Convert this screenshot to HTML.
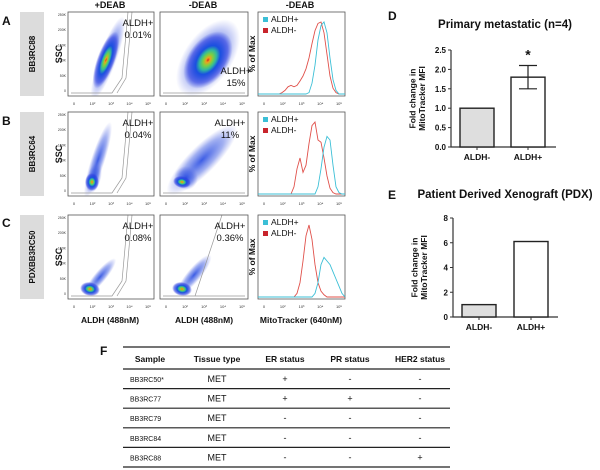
<!DOCTYPE html>
<html><head><meta charset="utf-8"><style>
body{margin:0;background:#fff;}
svg{display:block;font-family:"Liberation Sans",Arial,sans-serif;}
</style></head><body>
<svg id="fig" width="600" height="470" viewBox="0 0 600 470" xmlns="http://www.w3.org/2000/svg">
<defs>
<radialGradient id="dens" cx="50%" cy="50%" r="50%">
<stop offset="0" stop-color="#d42a1a"/><stop offset="0.08" stop-color="#f0a020"/><stop offset="0.2" stop-color="#7dd040"/><stop offset="0.35" stop-color="#2fb8a0"/><stop offset="0.5" stop-color="#1a50e0"/><stop offset="0.8" stop-color="#2a3ce0" stop-opacity="0.6"/><stop offset="1" stop-color="#3040e0" stop-opacity="0"/>
</radialGradient>
<radialGradient id="blue" cx="50%" cy="50%" r="50%">
<stop offset="0" stop-color="#1a40e0" stop-opacity="0.85"/><stop offset="0.6" stop-color="#3050e0" stop-opacity="0.45"/><stop offset="1" stop-color="#5060e0" stop-opacity="0"/>
</radialGradient>
</defs>
<g font-weight="bold" font-size="9" text-anchor="middle" fill="#111">
<text x="110" y="8">+DEAB</text>
<text x="203" y="8">-DEAB</text>
<text x="300" y="8">-DEAB</text>
</g>
<g font-weight="bold" font-size="12" fill="#111">
<text x="2" y="25">A</text>
<text x="2" y="125">B</text>
<text x="2" y="227">C</text>
<text x="388" y="20">D</text>
<text x="388" y="199">E</text>
<text x="100" y="355">F</text>
</g>
<g id="rows"></g>
<g id="dchart"></g>
<g id="echart"></g>
<g id="table"></g>
</svg>
<script>
const NS="http://www.w3.org/2000/svg";
function mk(tag,attrs,parent,txt){const e=document.createElementNS(NS,tag);for(const k in attrs)e.setAttribute(k,attrs[k]);if(txt!==undefined)e.textContent=txt;parent.appendChild(e);return e;}

// ---- flow cytometry rows ----
const sampleNames=["BB3RC88","BB3RC64","PDXBB3RC50"];
const gateLeft=["ALDH+\n0.01%","ALDH+\n0.04%","ALDH+\n0.08%"];
const gateRight=["ALDH+\n15%","ALDH+\n11%","ALDH+\n0.36%"];
const histRedA=[0,0,0,0,0,0,0,0,0.02,0.05,0.1,0.12,0.1,0.12,0.18,0.25,0.35,0.5,0.7,0.88,0.98,1.0,0.85,0.55,0.25,0.08,0.02,0,0,0];
const histCyanA=[0,0,0,0,0,0,0,0,0,0,0,0,0,0,0,0,0,0.02,0.15,0.4,0.75,0.95,1.0,0.85,0.5,0.2,0.05,0,0,0];
const histRedB=[0,0,0,0,0,0,0,0,0,0,0,0,0.1,0.35,0.5,0.3,0.4,0.7,0.95,1.0,0.75,0.72,0.5,0.25,0.08,0.02,0,0,0,0];
const histCyanB=[0,0,0,0,0,0,0,0,0,0,0,0,0,0,0,0,0,0,0,0,0.1,0.35,0.65,0.8,0.75,0.4,0.1,0.02,0,0];
const histRedC=[0,0,0,0,0,0,0,0,0,0,0,0,0,0.05,0.2,0.5,0.85,1.0,0.8,0.45,0.2,0.08,0.03,0,0,0,0,0,0,0];
const histCyanC=[0,0,0,0,0,0,0,0,0,0,0,0,0,0,0,0,0,0,0,0.05,0.2,0.45,0.55,0.5,0.45,0.35,0.25,0.15,0.05,0];
const histRed=[histRedA,histRedB,histRedC];
const histCyan=[histCyanA,histCyanB,histCyanC];
const xTicks=["0","10²","10³","10⁴","10⁵"];
const yTicks=["250K","200K","150K","100K","50K","0"];
const rowTops=[12,112,215];
const rowsG=document.getElementById('rows');
// blob shapes: [cx,cy,rx,ry,rotation,gradient] relative to panel
const blobs=[
 [[[40,46,9,44,20,'blue'],[38,48,9,30,20,'dens']],[[48,46,24,44,35,'blue'],[48,48,20,32,35,'dens']]],
 [[[30,48,7,40,18,'blue'],[26,66,7,16,15,'blue'],[24,70,7,9,0,'dens']],[[42,48,14,48,45,'blue'],[26,66,12,12,45,'blue'],[22,70,9,6,10,'dens']]],
 [[[32,62,6,24,40,'blue'],[22,74,10,7,10,'dens']],[[34,60,7,26,40,'blue'],[22,74,10,7,10,'dens']]]
];
rowTops.forEach((top,r)=>{
  const g=mk('g',{},rowsG);
  
  
  const lab=mk('rect',{x:20,y:top,width:24,height:84,fill:'#dcdcdc'},g);
  
  
  const t=mk('text',{x:0,y:0,transform:`translate(35,${top+42}) rotate(-90)`,'text-anchor':'middle','font-size':'8','font-weight':'bold',fill:'#111'},g,sampleNames[r]);
  
  
  const ssc=mk('text',{x:0,y:0,transform:`translate(62,${top+42}) rotate(-90)`,'text-anchor':'middle','font-size':'9','font-weight':'bold',fill:'#111'},g,'SSC');
  
  
  const panels=[[68,86],[160,88]];
  panels.forEach((p,pi)=>{
    const px=p[0],pw=p[1],ph=84;
    const cg=mk('g',{},g);
    
    
    const cp='cp'+r+pi;
    const clip=mk('clipPath',{id:cp},cg);mk('rect',{x:px,y:top,width:pw,height:ph},clip);
    const bg=mk('g',{'clip-path':`url(#${cp})`},cg);
    blobs[r][pi].forEach(b=>{
      const e=mk('ellipse',{cx:px+b[0],cy:top+b[1],rx:b[2],ry:b[3],fill:`url(#${b[5]})`,transform:`rotate(${b[4]} ${px+b[0]} ${top+b[1]})`},bg);
      
      
    });
    const gx=pi===0?px+44:px+14;
    let gd;
    if(pi===0) gd=`M${px+3} ${top+81} L${gx} ${top+81} L${gx+10} ${top+66} L${gx+16} ${top} M${gx+5} ${top+81} L${gx+14} ${top+66} L${gx+20} ${top}`;
    else if(r===2) gd=`M${px+3} ${top+81} L${px+pw-3} ${top+81} M${px+35} ${top+81} L${px+62} ${top}`;
    else gd=`M${px+3} ${top+81} L${px+pw-3} ${top+81}`;
    const gate=mk('path',{d:gd,fill:'none',stroke:'#999','stroke-width':0.7},cg);
    
    
    const fr=mk('rect',{x:px,y:top,width:pw,height:ph,fill:'none',stroke:'#555','stroke-width':0.8},cg);
    
    
    const lines=(pi===0?gateLeft[r]:gateRight[r]).split('\n');
    let lx,ly;
    if(pi===0){lx=px+70;ly=top+14;}else{ if(r===0){lx=px+76;ly=top+62;}else{lx=px+70;ly=top+14;} }
    lines.forEach((s,i)=>{const tt=mk('text',{x:lx,y:ly+i*12,'text-anchor':'middle','font-size':'9.5',fill:'#111'},cg,s);
      
      });
    xTicks.forEach((s,i)=>{const tx=mk('text',{x:px+6+i*(pw-12)/4,y:top+93,'text-anchor':'middle','font-size':'4',fill:'#333'},cg,s);
      
      });
    if(pi===0)yTicks.forEach((s,i)=>{const ty=mk('text',{x:px-2,y:top+4+i*15.2,'text-anchor':'end','font-size':'3.5',fill:'#333'},cg,s);
      
      });
  });
  const hx=258,hw=87,ph=84,base=top+82;
  const hg=mk('g',{},g);
  
  
  const fr=mk('rect',{x:hx,y:top,width:hw,height:ph,fill:'none',stroke:'#555','stroke-width':0.8},hg);
  
  
  const xs=i=>hx+i*hw/(histRed[r].length-1);
  const ys=v=>base-v*72;
  [[histRed[r],'#e0504a','red-series'],[histCyan[r],'#3bbfd6','cyan-series']].forEach(s=>{
    const pts=s[0].map((v,i)=>xs(i).toFixed(1)+','+ys(v).toFixed(1)).join(' ');
    const pl=mk('polyline',{points:pts,fill:'none',stroke:s[1],'stroke-width':0.9},hg);
    
    
  });
  const yl=mk('text',{x:0,y:0,transform:`translate(255,${top+42}) rotate(-90)`,'text-anchor':'middle','font-size':'8.5','font-weight':'bold',fill:'#111'},g,'% of Max');
  
  
  [['#3bbfd6','ALDH+',0],['#c8242c','ALDH-',11]].forEach(l=>{
    const sq=mk('rect',{x:263,y:top+5+l[2],width:5,height:5,fill:l[0]},hg);
    
    
    const lt=mk('text',{x:271,y:top+10+l[2],'font-size':'8.5',fill:'#111'},hg,l[1]);
    
    
  });
  xTicks.forEach((s,i)=>{const tx=mk('text',{x:hx+6+i*(hw-12)/4,y:top+93,'text-anchor':'middle','font-size':'4',fill:'#333'},hg,s);
    
    });
});
[['ALDH (488nM)',110],['ALDH (488nM)',204],['MitoTracker (640nM)',301]].forEach(a=>{
  const t=mk('text',{x:a[1],y:323,'text-anchor':'middle','font-size':'8.5','font-weight':'bold',fill:'#111'},rowsG,a[0]);
  
  
});

// ---- bar charts ----
const dCategories=["ALDH-","ALDH+"];
const dValues=[1.0,1.8];
const dErrors=[0,0.3];
const dTicks=[0,0.5,1.0,1.5,2.0,2.5];
const eCategories=["ALDH-","ALDH+"];
const eValues=[1.0,6.1];
const eTicks=[0,2,4,6,8];
function barChart(gid,name,title,titleY,cats,vals,errs,ticks,ymax,axisX,y0,yTop,barX,barW,star,dec){
  const g=document.getElementById(gid);
  
  
  const ys=v=>y0-(v/ymax)*(y0-yTop);
  const tt=mk('text',{x:505,y:titleY,'text-anchor':'middle','font-size':'11.5','font-weight':'bold',fill:'#111'},g,title);
  
  
  const ax=mk('path',{d:`M${axisX} ${yTop} L${axisX} ${y0} L${axisX+105} ${y0}`,fill:'none',stroke:'#333','stroke-width':1.2},g);
  
  
  ticks.forEach(v=>{
    const tk=mk('line',{x1:axisX-3,x2:axisX,y1:ys(v),y2:ys(v),stroke:'#333','stroke-width':1},g);
    
    
    const tl=mk('text',{x:axisX-5,y:ys(v)+3,'text-anchor':'end','font-size':'8','font-weight':'bold',fill:'#111'},g,dec?v.toFixed(1):String(v));
    
    
  });
  const yl=mk('text',{x:0,y:0,transform:`translate(${axisX-34},${(y0+yTop)/2}) rotate(-90)`,'text-anchor':'middle','font-size':'8.5','font-weight':'bold',fill:'#111'},g);
  
  
  mk('tspan',{x:0,dy:'-0.2em'},yl,'Fold change in');
  mk('tspan',{x:0,dy:'1.15em'},yl,'MitoTracker MFI');
  cats.forEach((c,i)=>{
    const x=barX[i];
    const b=mk('rect',{x:x,y:ys(vals[i]),width:barW,height:y0-ys(vals[i]),fill:i===0?'#dedede':'#fff',stroke:'#222','stroke-width':1.4},g);
    
    
    const tk=mk('line',{x1:x+barW/2,x2:x+barW/2,y1:y0,y2:y0+3,stroke:'#333'},g);
    
    
    const cl=mk('text',{x:x+barW/2,y:y0+13,'text-anchor':'middle','font-size':'8.5','font-weight':'bold',fill:'#111'},g,c);
    
    
    if(errs&&errs[i]>0){
      const cx=x+barW/2,hi=ys(vals[i]+errs[i]),lo=ys(vals[i]-errs[i]);
      const eb=mk('path',{d:`M${cx} ${hi} L${cx} ${lo} M${cx-9} ${hi} L${cx+9} ${hi} M${cx-9} ${lo} L${cx+9} ${lo}`,stroke:'#222','stroke-width':1.2,fill:'none'},g);
      
      
      if(star){const s=mk('text',{x:cx,y:hi-6,'text-anchor':'middle','font-size':'14','font-weight':'bold',fill:'#111'},g,'*');
        
        }
    }
  });
}
barChart('dchart','bar-chart-primary-metastatic','Primary metastatic (n=4)',28,dCategories,dValues,dErrors,dTicks,2.5,451,147,50,[460,511],34,true,true);
barChart('echart','bar-chart-pdx','Patient Derived Xenograft (PDX)',198,eCategories,eValues,null,eTicks,8,453,317,218,[462,514],34,false,false);

// ---- table ----
const tHeaders=["Sample","Tissue type","ER status","PR status","HER2 status"];
const tRows=[["BB3RC50*","MET","+","-","-"],["BB3RC77","MET","+","+","-"],["BB3RC79","MET","-","-","-"],["BB3RC84","MET","-","-","-"],["BB3RC88","MET","-","-","+"]];
const tg=document.getElementById('table');


const colX=[150,217,285,350,420];
const tx0=123,tx1=450;
const hl=mk('line',{x1:tx0,x2:tx1,y1:347,y2:347,stroke:'#222','stroke-width':1.3},tg);


tHeaders.forEach((h,i)=>{const t=mk('text',{x:colX[i],y:362,'text-anchor':'middle','font-size':'8.5','font-weight':'bold',fill:'#111'},tg,h);
  
  });
let ly=369;
const rl=mk('line',{x1:tx0,x2:tx1,y1:ly,y2:ly,stroke:'#222','stroke-width':1.3},tg);


tRows.forEach((row,r)=>{
  const y=ly+r*19.6;
  row.forEach((c,i)=>{
    const t=mk('text',{x:i===0?130:colX[i],y:y+13,'text-anchor':i===0?'start':'middle','font-size':i===0?'7':'9',fill:'#111'},tg,c);
    
    
  });
  const l=mk('line',{x1:tx0,x2:tx1,y1:y+19.6,y2:y+19.6,stroke:'#222','stroke-width':1.2},tg);
  
  
});
</script>
</body></html>
